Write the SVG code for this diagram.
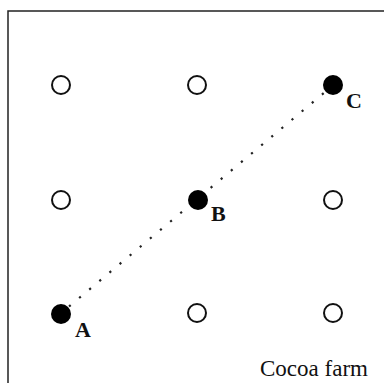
<svg xmlns="http://www.w3.org/2000/svg" width="384" height="383" viewBox="0 0 384 383">
<style>
.open{fill:#fff;stroke:#111;stroke-width:2}
.filled{fill:#000}
.lbl{font-family:"Liberation Serif",serif;font-weight:bold;font-size:22px;fill:#111}
.cap{font-family:"Liberation Serif",serif;font-size:23px;fill:#111}
</style>
<rect width="384" height="383" fill="#fff"/>
<rect x="8" y="11" width="400" height="400" fill="none" stroke="#222" stroke-width="1.5"/>
<g id="connectors">
<line x1="69" y1="306.5" x2="325" y2="92" stroke="#222" stroke-width="2.2" stroke-dasharray="2.2 11"/>
</g>
<g id="n11"><circle class="open" cx="61" cy="85" r="9"/></g>
<g id="n12"><circle class="open" cx="197" cy="85" r="9"/></g>
<g id="C"><circle class="filled" cx="333" cy="85" r="10"/><text class="lbl" x="346" y="108">C</text></g>
<g id="n21"><circle class="open" cx="61" cy="200" r="9"/></g>
<g id="B"><circle class="filled" cx="198" cy="200" r="10"/><text class="lbl" x="211" y="221">B</text></g>
<g id="n23"><circle class="open" cx="333" cy="200" r="9"/></g>
<g id="A"><circle class="filled" cx="61" cy="314" r="10"/><text class="lbl" x="75" y="337">A</text></g>
<g id="n32"><circle class="open" cx="197" cy="313" r="9"/></g>
<g id="n33"><circle class="open" cx="333" cy="313" r="9"/></g>
<text class="cap" x="260" y="376">Cocoa farm</text>
</svg>
